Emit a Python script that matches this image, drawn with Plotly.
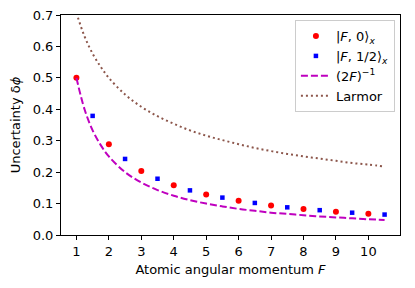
import plotly.graph_objects as go

# Data
F_int = [1, 2, 3, 4, 5, 6, 7, 8, 9, 10]
dphi_F0 = [0.500, 0.289, 0.204, 0.158, 0.129, 0.109, 0.094, 0.083, 0.074, 0.068]

F_half = [1.5, 2.5, 3.5, 4.5, 5.5, 6.5, 7.5, 8.5, 9.5, 10.5]
dphi_Fhalf = [0.379, 0.242, 0.179, 0.142, 0.119, 0.102, 0.088, 0.079, 0.071, 0.065]

F_curve = [1.0, 1.25, 1.5, 1.75, 2.0, 2.5, 3.0, 3.5, 4.0, 4.5, 5.0, 5.5, 6.0, 6.5,
           7.0, 7.5, 8.0, 8.5, 9.0, 9.5, 10.0, 10.5]
inv_2F = [0.500, 0.400, 0.333, 0.286, 0.250, 0.200, 0.167, 0.143, 0.125, 0.111,
          0.100, 0.091, 0.083, 0.077, 0.071, 0.067, 0.063, 0.059, 0.056, 0.053,
          0.050, 0.048]
larmor = [0.707, 0.632, 0.577, 0.535, 0.500, 0.447, 0.408, 0.378, 0.354, 0.333,
          0.316, 0.302, 0.289, 0.277, 0.267, 0.258, 0.250, 0.243, 0.236, 0.229,
          0.224, 0.218]

x_ticks = [1, 2, 3, 4, 5, 6, 7, 8, 9, 10]
y_ticks = [0.0, 0.1, 0.2, 0.3, 0.4, 0.5, 0.6, 0.7]

FONT = "DejaVu Sans"
FS = 13
LFS = 13

fig = go.Figure()
fig.add_trace(go.Scatter(x=F_int, y=dphi_F0, mode="markers", legendgroup="a",
                         marker=dict(color="#ff0000", size=6, symbol="circle"),
                         name="|<i>F</i>, 0⟩<sub><i>x</i></sub>"))
fig.add_trace(go.Scatter(x=F_half, y=dphi_Fhalf, mode="markers", legendgroup="b",
                         marker=dict(color="#0000ff", size=4.5, symbol="square"),
                         name="|<i>F</i>, 1/2⟩<sub><i>x</i></sub>"))
fig.add_trace(go.Scatter(x=F_curve, y=inv_2F, mode="lines", line_shape="spline",
                         legendgroup="c",
                         line=dict(color="#bf00bf", width=2, dash="7px,3px"),
                         name="(2<i>F</i>)<sup>−1</sup>"))
fig.add_trace(go.Scatter(x=F_curve, y=larmor, mode="lines", line_shape="spline",
                         legendgroup="d",
                         line=dict(color="#8c564b", width=2, dash="2px,3px"),
                         name="Larmor"))

fig.update_layout(
    width=415, height=288,
    margin=dict(l=61, r=15, t=15, b=53, autoexpand=False),
    paper_bgcolor="white", plot_bgcolor="white",
    font=dict(family=FONT, size=FS, color="black"),
    showlegend=True,
    legend=dict(x=0.985, y=0.977, xanchor="right", yanchor="top",
                bgcolor="rgba(255,255,255,0.8)", bordercolor="#cccccc", borderwidth=1,
                font=dict(family=FONT, size=LFS, color="black"), tracegroupgap=0,
                itemwidth=30),
)
fig.update_xaxes(range=[0.525, 10.975], tickvals=x_ticks,
                 ticktext=[str(v) for v in x_ticks], automargin=False,
                 tickfont=dict(family=FONT, size=FS, color="black"),
                 showgrid=False, zeroline=False, showline=True, linecolor="black",
                 linewidth=1, mirror=True, ticks="outside", ticklen=4, tickcolor="black",
                 title=dict(text="Atomic angular momentum <i>F</i>", standoff=7,
                            font=dict(family=FONT, size=FS, color="black")))
fig.update_yaxes(range=[0, 0.7], tickvals=y_ticks,
                 ticktext=[f"{v:.1f}" for v in y_ticks], automargin=False,
                 tickfont=dict(family=FONT, size=FS, color="black"),
                 showgrid=False, zeroline=False, showline=True, linecolor="black",
                 linewidth=1, mirror=True, ticks="outside", ticklen=4, tickcolor="black",
                 title=dict(text="Uncertainty δ<i>ϕ</i>", standoff=9,
                            font=dict(family=FONT, size=FS, color="black")))

fig.write_html("out.html", post_script="document.body.style.margin='0px';",
               config={"displayModeBar": False})
